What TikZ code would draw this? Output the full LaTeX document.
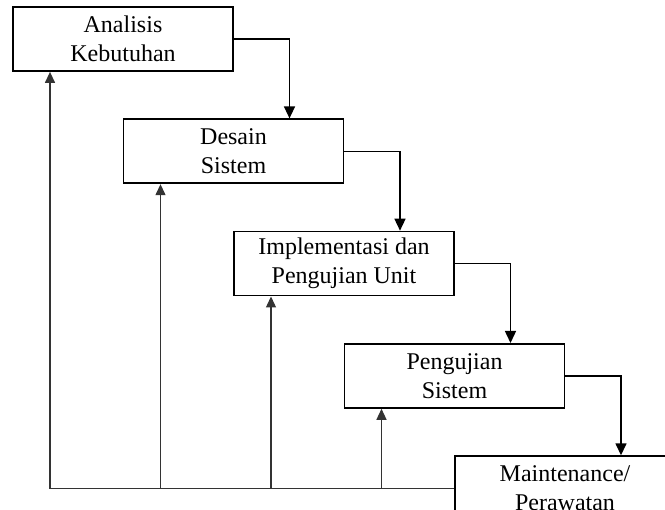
\documentclass[tikz,border=0pt]{standalone}
\usepackage{fontspec}
\setmainfont{Liberation Serif}
\usetikzlibrary{positioning,arrows.meta}

\begin{document}
\begin{tikzpicture}[
  x=1pt, y=1pt,
  font=\fontsize{24}{29}\selectfont,
  node distance=46.5pt,
  stage/.style={
    rectangle, draw=black, line width=1.8pt,
    minimum width=220pt, minimum height=64pt, align=center, inner sep=0pt
  },
  arr/.style={-{Triangle[length=12pt,width=11pt]}, line width=1.5pt},
  back/.style={-{Triangle[length=11pt,width=10pt]}, line width=1.3pt, draw=black!80}
]
\useasboundingbox (0,0) rectangle (665,510);

\node[stage] (ana) at (123,471) {Analisis\\Kebutuhan};
\node[stage, below=of ana.south, xshift=110.5pt] (des) {Desain\\Sistem};
\node[stage, below=of des.south, xshift=110.5pt] (imp) {Implementasi dan\\Pengujian Unit};
\node[stage, below=of imp.south, xshift=110.5pt] (uji) {Pengujian\\Sistem};
\node[stage, below=of uji.south, xshift=110.5pt] (mnt) {Maintenance/\\Perawatan};

\draw[arr] (ana.east) -| ([xshift=56pt]des.north);
\draw[arr] (des.east) -| ([xshift=56pt]imp.north);
\draw[arr] (imp.east) -| ([xshift=56pt]uji.north);
\draw[arr] (uji.east) -| ([xshift=56pt]mnt.north);

% feedback
\draw[back] (mnt.west) -| ([xshift=-73pt]ana.south);
\draw[back] ([xshift=-73pt]des.south |- mnt.west) -- ([xshift=-73pt]des.south);
\draw[back] ([xshift=-73pt]imp.south |- mnt.west) -- ([xshift=-73pt]imp.south);
\draw[back] ([xshift=-73pt]uji.south |- mnt.west) -- ([xshift=-73pt]uji.south);

\end{tikzpicture}
\end{document}
